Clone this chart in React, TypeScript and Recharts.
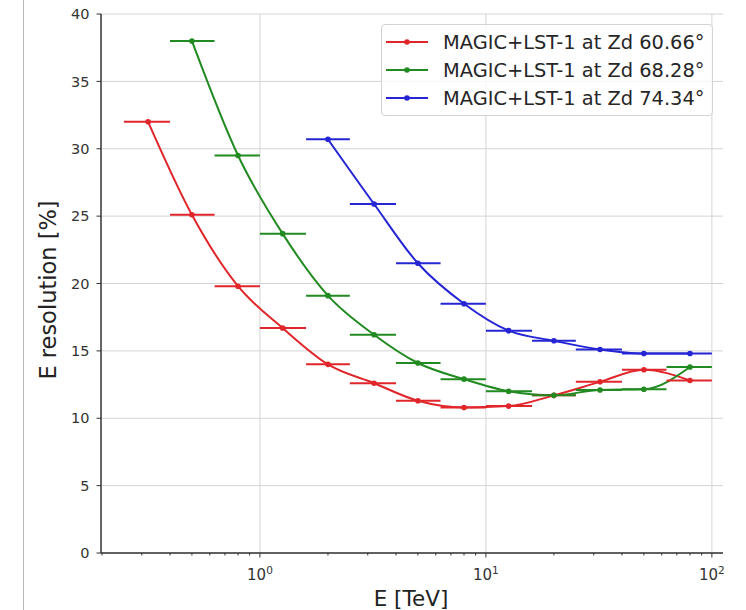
import React from 'react';
import {
  ComposedChart,
  Scatter,
  Line,
  XAxis,
  YAxis,
  CartesianGrid,
  ErrorBar,
  Legend,
  Label,
} from 'recharts';

// ---- data ----
const seriesNames = [
  'MAGIC+LST-1 at Zd 60.66°',
  'MAGIC+LST-1 at Zd 68.28°',
  'MAGIC+LST-1 at Zd 74.34°',
];
const seriesColors = ['#e0262b', '#218a21', '#2525d4'];

// energy bin centres and edges [TeV]
const energyCenters = [0.32, 0.5, 0.8, 1.26, 2.0, 3.2, 5.0, 8.0, 12.6, 20, 32, 50, 80];
const binLow = [0.25, 0.4, 0.63, 1.0, 1.6, 2.5, 4.0, 6.3, 10, 16, 25, 40, 63];
const binHigh = [0.4, 0.63, 1.0, 1.6, 2.5, 4.0, 6.3, 10, 16, 25, 40, 63, 100];

// energy resolution [%]
const resZd6066 = [32.0, 25.1, 19.8, 16.7, 14.0, 12.6, 11.3, 10.8, 10.9, 11.7, 12.7, 13.6, 12.8];
const resZd6828 = [null, 38.0, 29.5, 23.7, 19.1, 16.2, 14.1, 12.9, 12.0, 11.7, 12.1, 12.15, 13.8];
const resZd7434 = [null, null, null, null, 30.7, 25.9, 21.5, 18.5, 16.5, 15.75, 15.1, 14.8, 14.8];

const yTicks = [0, 5, 10, 15, 20, 25, 30, 35, 40];
const xMajorTicks = [1, 10, 100];
const xMinorTicks = [
  0.2, 0.3, 0.4, 0.5, 0.6, 0.7, 0.8, 0.9,
  2, 3, 4, 5, 6, 7, 8, 9,
  20, 30, 40, 50, 60, 70, 80, 90,
];
const xDomain = [0.198, 112];
const yDomain = [0, 40];

const allSeries = [resZd6066, resZd6828, resZd7434];

type Pt = { e: number; r: number; ex: [number, number] };
const buildSeries = (vals: (number | null)[]): Pt[] =>
  energyCenters
    .map((e, i) =>
      vals[i] == null
        ? null
        : { e, r: vals[i] as number, ex: [e - binLow[i], binHigh[i] - e] as [number, number] }
    )
    .filter((d): d is Pt => d !== null);

const FONT = '"DejaVu Sans", sans-serif';
const INK = '#333';

const XTick = (props: any) => {
  const { x, y, payload } = props;
  const v = payload.value;
  const major = xMajorTicks.includes(v);
  return (
    <g>
      <line x1={x} x2={x} y1={y} y2={y + (major ? 4.5 : 2.5)} stroke={INK} strokeWidth={1} />
      {major && (
        <text x={x} y={y + 27} textAnchor="middle" fontSize={15} fill={INK} fontFamily={FONT}>
          10
          <tspan dy={-6.5} fontSize={10.5}>
            {Math.round(Math.log10(v))}
          </tspan>
        </text>
      )}
    </g>
  );
};

const LegendBox = () => (
  <div
    style={{
      width: 332,
      height: 92,
      boxSizing: 'border-box',
      border: '1px solid #d3d3d3',
      borderRadius: 4,
      background: 'rgba(255,255,255,0.8)',
      position: 'relative',
      fontFamily: FONT,
    }}
  >
    {seriesNames.map((name, i) => (
      <div
        key={name}
        style={{
          position: 'absolute',
          left: 0,
          top: 3 + i * 28.2,
          height: 28,
          width: 330,
          display: 'flex',
          alignItems: 'center',
        }}
      >
        <svg width={60} height={28} style={{ flex: 'none' }}>
          <line x1={4} x2={46} y1={14} y2={14} stroke={seriesColors[i]} strokeWidth={2} />
          <circle cx={25} cy={14} r={2.8} fill={seriesColors[i]} />
        </svg>
        <span style={{ fontSize: 19.4, color: '#262626', marginLeft: 1, whiteSpace: 'nowrap' }}>
          {name}
        </span>
      </div>
    ))}
  </div>
);

export default function App() {
  return (
    <div
      style={{
        position: 'absolute',
        left: 0,
        top: 0,
        width: 746,
        height: 610,
        background: '#fff',
        overflow: 'hidden',
      }}
    >
      <div
        style={{
          position: 'absolute',
          left: 23,
          top: 0,
          width: 1,
          height: 610,
          background: '#b8b8b8',
        }}
      />
      <ComposedChart
        width={746}
        height={610}
        margin={{ top: 14, right: 23, bottom: 0, left: 0 }}
        style={{ fontFamily: FONT }}
      >
        <CartesianGrid
          stroke="#d4d4d4"
          strokeWidth={1}
          verticalValues={xMajorTicks}
          horizontalValues={yTicks}
        />
        <XAxis
          dataKey="e"
          type="number"
          scale="log"
          domain={xDomain}
          allowDataOverflow
          ticks={[...xMinorTicks, ...xMajorTicks].sort((a, b) => a - b)}
          interval={0}
          tick={<XTick />}
          tickLine={false}
          tickSize={0}
          tickMargin={0}
          height={57}
          axisLine={{ stroke: INK, strokeWidth: 1.5 }}
        >
          <Label
            content={() => (
              <text x={411} y={606} textAnchor="middle" fontSize={21.5} fill="#222" fontFamily={FONT}>
                E [TeV]
              </text>
            )}
          />
        </XAxis>
        <XAxis
          xAxisId="top"
          orientation="top"
          type="number"
          domain={[0, 1]}
          height={0}
          tick={false}
          tickLine={false}
          axisLine={{ stroke: INK, strokeWidth: 1.5 }}
        />
        <YAxis
          dataKey="r"
          type="number"
          domain={yDomain}
          ticks={yTicks}
          interval={0}
          width={101}
          tickSize={4.5}
          tickMargin={7}
          tick={{ fontSize: 14.5, fill: INK, fontFamily: FONT }}
          tickLine={{ stroke: INK }}
          axisLine={{ stroke: INK, strokeWidth: 1.5 }}
        >
          <Label
            content={() => (
              <text
                x={56}
                y={290}
                textAnchor="middle"
                fontSize={22.5}
                fill="#222"
                fontFamily={FONT}
                transform="rotate(-90 56 290)"
              >
                E resolution [%]
              </text>
            )}
          />
        </YAxis>
        <YAxis
          yAxisId="right"
          orientation="right"
          type="number"
          domain={yDomain}
          width={0}
          tick={false}
          tickLine={false}
          axisLine={{ stroke: INK, strokeWidth: 1.5 }}
        />
        <Legend
          layout="vertical"
          align="center"
          verticalAlign="middle"
          content={() => <LegendBox />}
          wrapperStyle={{ left: 381, top: 24, width: 332, height: 92, right: 'auto', bottom: 'auto' }}
        />
        {allSeries.map((vals, i) => (
          <Line
            key={'line-' + seriesNames[i]}
            name={seriesNames[i]}
            data={buildSeries(vals)}
            dataKey="r"
            type="monotone"
            stroke={seriesColors[i]}
            strokeWidth={2}
            dot={false}
            activeDot={false}
            legendType="none"
            isAnimationActive={false}
          />
        ))}
        {allSeries.map((vals, i) => (
          <Scatter
            key={'pts-' + seriesNames[i]}
            name={seriesNames[i]}
            data={buildSeries(vals)}
            dataKey="r"
            fill={seriesColors[i]}
            isAnimationActive={false}
            shape={(p: any) => <circle cx={p.cx} cy={p.cy} r={2.8} fill={seriesColors[i]} />}
          >
            <ErrorBar
              dataKey="ex"
              direction="x"
              width={0}
              stroke={seriesColors[i]}
              strokeWidth={2}
            />
          </Scatter>
        ))}
      </ComposedChart>
    </div>
  );
}
